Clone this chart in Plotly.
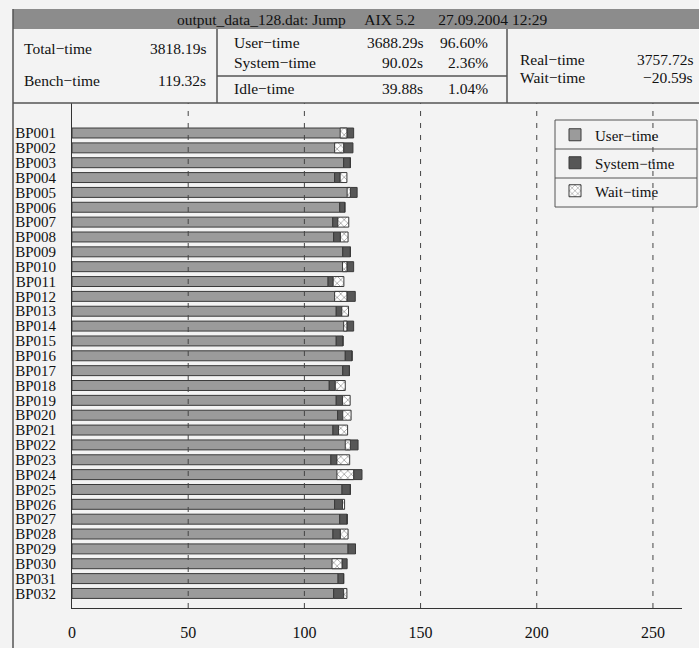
import plotly.graph_objects as go

# ---------------- data ----------------
categories = ["BP%03d" % i for i in range(1, 33)]
user_time = [118.3, 116.9, 116.9, 113.0, 119.8, 115.2, 112.2, 112.6, 116.5, 118.3,
             110.2, 118.3, 113.7, 118.3, 113.7, 117.6, 116.5, 110.7, 113.7, 114.3,
             112.3, 119.8, 111.4, 121.2, 116.2, 113.0, 115.2, 112.3, 118.8, 116.2,
             114.5, 112.6]
system_time = [2.9, 4.0, 2.9, 2.4, 2.9, 2.2, 2.2, 2.9, 3.3, 2.9,
               2.2, 3.6, 2.4, 2.9, 2.9, 2.9, 2.9, 2.6, 2.7, 2.2,
               2.4, 3.3, 2.6, 3.6, 3.6, 3.4, 3.2, 3.2, 3.2, 2.2,
               2.4, 4.3]
wait_time = [-2.9, -3.9, 0.0, 2.9, -1.4, 0.0, 4.7, 3.3, 0.0, -1.9,
             4.6, -5.3, 2.9, -1.4, 0.0, 0.0, 0.0, 4.3, 3.3, 3.6,
             3.9, -2.2, 5.5, -7.2, 0.0, 0.9, 0.0, 3.3, 0.0, -4.3,
             0.0, 1.4]
x_ticks = [0, 50, 100, 150, 200, 250]

header_title = "output_data_128.dat: Jump     AIX 5.2      27.09.2004 12:29"
left_rows = [("Total\u2212time", "3818.19s"), ("Bench\u2212time", "119.32s")]
mid_rows = [("User\u2212time", "3688.29s", "96.60%"),
            ("System\u2212time", "90.02s", "2.36%"),
            ("Idle\u2212time", "39.88s", "1.04%")]
right_rows = [("Real\u2212time", "3757.72s"), ("Wait\u2212time", "\u221220.59s")]

# ---------------- geometry helpers ----------------
W, H = 699, 648
L, R, T, B = 72, 17, 103, 40
PW, PH = W - L - R, H - T - B


def px(x):
    return (x - L) / PW


def py(y):
    return (H - B - y) / PH


FONT = "Liberation Serif, Times New Roman, serif"
EDGE = "#3a3a3a"
HF = 15.5  # header font size

sys_base = user_time
wait_base = [u + s if w >= 0 else u for u, s, w in zip(user_time, system_time, wait_time)]

fig = go.Figure()
fig.add_trace(go.Bar(
    y=categories, x=user_time, base=[0] * len(categories), orientation="h",
    name="User\u2212time", legendgroup="a",
    marker=dict(color="#9b9b9b", line=dict(color=EDGE, width=1)),
))
fig.add_trace(go.Bar(
    y=categories, x=system_time, base=sys_base, orientation="h",
    name="System\u2212time", legendgroup="b",
    marker=dict(color="#575757", line=dict(color=EDGE, width=1)),
))
fig.add_trace(go.Bar(
    y=categories, x=wait_time, base=wait_base, orientation="h",
    name="Wait\u2212time", legendgroup="c",
    marker=dict(color="white", line=dict(color=EDGE, width=1),
                pattern=dict(shape="x", fgcolor="#444444", bgcolor="white",
                             size=5, solidity=0.3)),
))

shapes = []
# vertical dashed grid lines
for t in x_ticks[1:]:
    shapes.append(dict(type="line", xref="x", yref="paper", x0=t, x1=t, y0=0, y1=1,
                       line=dict(color="#444444", width=1, dash="5px,7px")))
# header band
shapes.append(dict(type="rect", xref="paper", yref="paper", x0=px(13), x1=px(699),
                   y0=py(29), y1=py(9), fillcolor="#8c8c8c", line=dict(width=0),
                   layer="below"))
# header table lines
line_style = dict(color="#555555", width=1.5)
shapes += [
    dict(type="line", xref="paper", yref="paper", x0=px(13), x1=px(699), y0=py(103), y1=py(103), line=line_style),
    dict(type="line", xref="paper", yref="paper", x0=px(217), x1=px(217), y0=py(29), y1=py(103), line=line_style),
    dict(type="line", xref="paper", yref="paper", x0=px(507), x1=px(507), y0=py(29), y1=py(103), line=line_style),
    dict(type="line", xref="paper", yref="paper", x0=px(217), x1=px(507), y0=py(76), y1=py(76), line=line_style),
    dict(type="line", xref="paper", yref="paper", x0=px(13), x1=px(13), y0=py(648), y1=py(9), line=line_style),
]
# legend box and separators
lg_x0, lg_x1, lg_y0, lg_y1 = 555, 697, 120, 207
shapes.append(dict(type="rect", xref="paper", yref="paper", x0=px(lg_x0), x1=px(lg_x1),
                   y0=py(lg_y1), y1=py(lg_y0), line=dict(color="#555555", width=1)))
for ys in (149, 178):
    shapes.append(dict(type="line", xref="paper", yref="paper", x0=px(lg_x0), x1=px(lg_x1),
                       y0=py(ys), y1=py(ys), line=dict(color="#555555", width=1)))

annotations = [dict(text=header_title, xref="paper", yref="paper", x=px(362), y=py(19),
                    showarrow=False, font=dict(size=HF, color="#111111", family=FONT),
                    xanchor="center", yanchor="middle")]


def txt(s, x, y, anchor):
    annotations.append(dict(text=s, xref="paper", yref="paper", x=px(x), y=py(y),
                            showarrow=False, xanchor=anchor, yanchor="middle",
                            font=dict(size=HF, color="#111111", family=FONT)))


for (lab, val), yy in zip(left_rows, (49, 81)):
    txt(lab, 22, yy, "left")
    txt(val, 208, yy, "right")
for (lab, val, pct), yy in zip(mid_rows, (43, 63, 89)):
    txt(lab, 232, yy, "left")
    txt(val, 425, yy, "right")
    txt(pct, 490, yy, "right")
for (lab, val), yy in zip(right_rows, (60, 78)):
    txt(lab, 518, yy, "left")
    txt(val, 695, yy, "right")

fig.update_layout(
    width=W, height=H,
    margin=dict(l=L, r=R, t=T, b=B, pad=0, autoexpand=False),
    paper_bgcolor="#f3f3f3", plot_bgcolor="#f3f3f3",
    barmode="overlay", bargap=0.33,
    font=dict(family=FONT, size=15, color="#111111"),
    showlegend=True,
    legend=dict(x=px(lg_x0), y=py(118.5), xanchor="left", yanchor="top",
                bgcolor="rgba(0,0,0,0)", borderwidth=0, traceorder="grouped",
                tracegroupgap=5.5, font=dict(size=15, family=FONT)),
    shapes=shapes, annotations=annotations,
    xaxis=dict(range=[0, 262.5], tickvals=x_ticks, showgrid=False, zeroline=False,
               showline=True, linecolor="#333333", linewidth=1, ticks="outside",
               ticklen=10, tickcolor="rgba(0,0,0,0)", tickfont=dict(size=16),
               automargin=False, fixedrange=True),
    yaxis=dict(categoryorder="array", categoryarray=categories, tickvals=categories,
               range=[31.98, -2.02], automargin=False,
               showgrid=False, zeroline=False, showline=True, linecolor="#333333",
               linewidth=1, ticks="outside", ticklen=12, tickcolor="rgba(0,0,0,0)",
               tickfont=dict(size=15)),
)

fig.write_html("out.html", config={"displayModeBar": False},
               post_script="document.body.style.margin='0px';document.body.style.overflow='hidden';")
